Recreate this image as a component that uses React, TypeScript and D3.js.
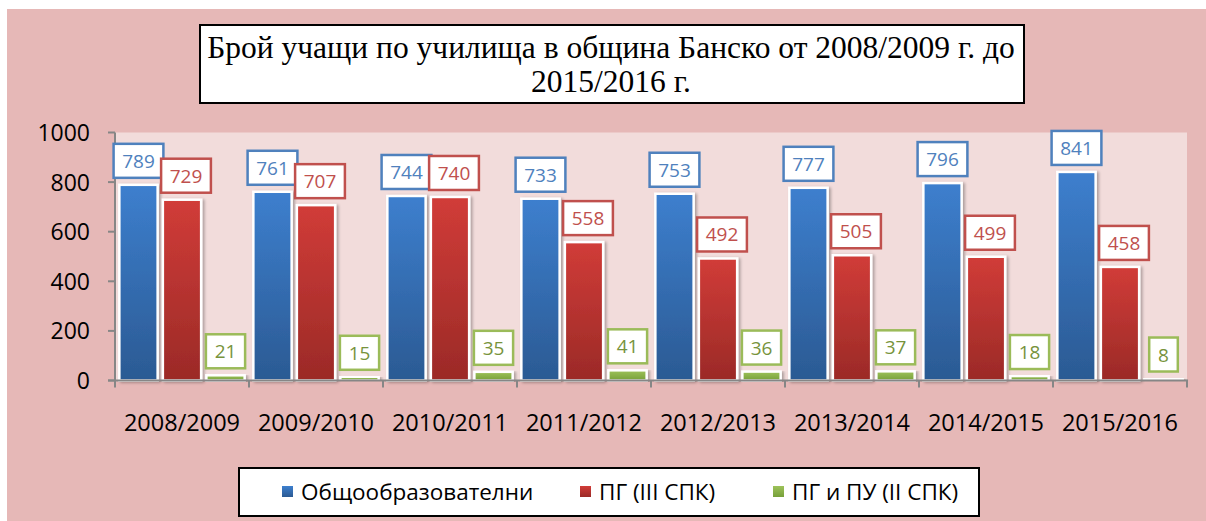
import React from "react";
import * as d3 from "d3";

const categories = ["2008/2009", "2009/2010", "2010/2011", "2011/2012", "2012/2013", "2013/2014", "2014/2015", "2015/2016"];
const seriesNames = ["Общообразователни", "ПГ (III СПК)", "ПГ и ПУ (II СПК)"];
const generalValues = [789, 761, 744, 733, 753, 777, 796, 841];
const pg3Values = [729, 707, 740, 558, 492, 505, 499, 458];
const pg2Values = [21, 15, 35, 41, 36, 37, 18, 8];
const yTicks = [0, 200, 400, 600, 800, 1000];
const titleLines = ["Брой учащи по училища в община Банско от 2008/2009 г. до", "2015/2016 г."];

const seriesValues = [generalValues, pg3Values, pg2Values];
const seriesStyle = [
  { top: "#3d7fce", bottom: "#2b5a93", stroke: "#4f81bd", text: "#4f81bd", id: "gB" },
  { top: "#d13c38", bottom: "#9b2a27", stroke: "#c0504d", text: "#c0504d", id: "gR" },
  { top: "#9dc25a", bottom: "#77a03a", stroke: "#9bbb59", text: "#77933c", id: "gG" },
];

const SANS = "'Open Sans', 'Noto Sans', sans-serif";
const SERIF = "'Liberation Serif', 'DejaVu Serif', serif";

export default function App() {
  const W = 1206, H = 521;
  const plot = { left: 115, right: 1187, top: 132.5, bottom: 380.5 };
  const x = d3.scaleBand<string>().domain(categories).range([plot.left, plot.right]).padding(0);
  const xs = d3.scaleBand<number>().domain([0, 1, 2]).range([0, x.bandwidth()]).paddingInner(0.12).paddingOuter(0.1);
  const y = d3.scaleLinear().domain([0, 1000]).range([plot.bottom, plot.top]);

  const labelFont = 19;
  const digitW = 10.6;

  return (
    <svg width={W} height={H} style={{ position: "absolute", left: 0, top: 0 }}>
      <defs>
        {seriesStyle.map((s) => (
          <linearGradient key={s.id} id={s.id} x1="0" y1="0" x2="0" y2="1">
            <stop offset="0" stopColor={s.top} />
            <stop offset="1" stopColor={s.bottom} />
          </linearGradient>
        ))}
        <filter id="sh" x="-20%" y="-10%" width="140%" height="120%">
          <feGaussianBlur in="SourceAlpha" stdDeviation="1.5" />
          <feOffset dx="2" dy="1" result="b" />
          <feComponentTransfer><feFuncA type="linear" slope="0.3" /></feComponentTransfer>
          <feMerge><feMergeNode /><feMergeNode in="SourceGraphic" /></feMerge>
        </filter>
      </defs>
      <rect x={7} y={9} width={W - 7} height={H - 9} fill="#e6b8b7" />
      <rect x={plot.left} y={plot.top} width={plot.right - plot.left} height={plot.bottom - plot.top} fill="#f2dcdb" />

      {/* Title */}
      <rect x={200} y={25} width={824} height={78} fill="#fff" stroke="#000" strokeWidth={2} />
      {titleLines.map((t, i) => (
        <text key={i} x={611} y={58 + i * 34} textAnchor="middle" fontFamily={SERIF} fontSize={31.5} fill="#000">{t}</text>
      ))}

      {/* Bars */}
      {categories.map((c, ci) => (
        <g key={c}>
          {seriesValues.map((vals, si) => {
            const v = vals[ci];
            const bx = (x(c) as number) + (xs(si) as number);
            const bw = xs.bandwidth();
            return (
              <rect key={si} x={bx} y={y(v)} width={bw} height={plot.bottom - y(v)}
                fill={`url(#${seriesStyle[si].id})`} stroke="#fff" strokeWidth={2.5} filter="url(#sh)" />
            );
          })}
        </g>
      ))}

      {/* Axes */}
      <line x1={plot.left} x2={plot.left} y1={plot.top} y2={plot.bottom} stroke="#868686" strokeWidth={2} />
      <line x1={plot.left - 7} x2={plot.right + 1} y1={plot.bottom} y2={plot.bottom} stroke="#868686" strokeWidth={2} />
      {yTicks.map((t) => (
        <g key={t}>
          <line x1={plot.left - 7} x2={plot.left} y1={y(t)} y2={y(t)} stroke="#868686" strokeWidth={2} />
          <text x={90} y={y(t) + 8.5} textAnchor="end" fontFamily={SANS} fontSize={23} fill="#000">{t}</text>
        </g>
      ))}
      {[...categories.map((c) => x(c) as number), plot.right].map((tx, i) => (
        <line key={i} x1={tx} x2={tx} y1={plot.bottom} y2={plot.bottom + 7} stroke="#868686" strokeWidth={2} />
      ))}
      {categories.map((c) => (
        <text key={c} x={(x(c) as number) + x.bandwidth() / 2} y={431} textAnchor="middle" fontFamily={SANS} fontSize={23.5} fill="#000">{c}</text>
      ))}

      {/* Data labels */}
      {categories.map((c, ci) => (
        <g key={c}>
          {seriesValues.map((vals, si) => {
            const v = vals[ci];
            const cx = (x(c) as number) + (xs(si) as number) + xs.bandwidth() / 2 + (si === 1 ? 4 : 0);
            const txt = String(v);
            const bw = txt.length * digitW + 18;
            const bh = 34;
            const by = y(v) - 7 - bh;
            return (
              <g key={si}>
                <rect x={cx - bw / 2} y={by} width={bw} height={bh} fill="#fff" stroke={seriesStyle[si].stroke} strokeWidth={2.5} />
                <text x={cx} y={by + bh / 2 + 7} textAnchor="middle" fontFamily={SANS} fontSize={labelFont} fill={seriesStyle[si].text}>{txt}</text>
              </g>
            );
          })}
        </g>
      ))}

      {/* Legend */}
      <rect x={239} y={468} width={740} height={48} fill="#fff" stroke="#000" strokeWidth={2} />
      {seriesNames.map((n, i) => {
        const lx = [282, 580, 773][i];
        return (
          <g key={n}>
            <rect x={lx} y={486} width={11} height={11} fill={`url(#${seriesStyle[i].id})`} />
            <text x={lx + 19} y={500} fontFamily={SANS} fontSize={22.5} fill="#000">{n}</text>
          </g>
        );
      })}
    </svg>
  );
}
